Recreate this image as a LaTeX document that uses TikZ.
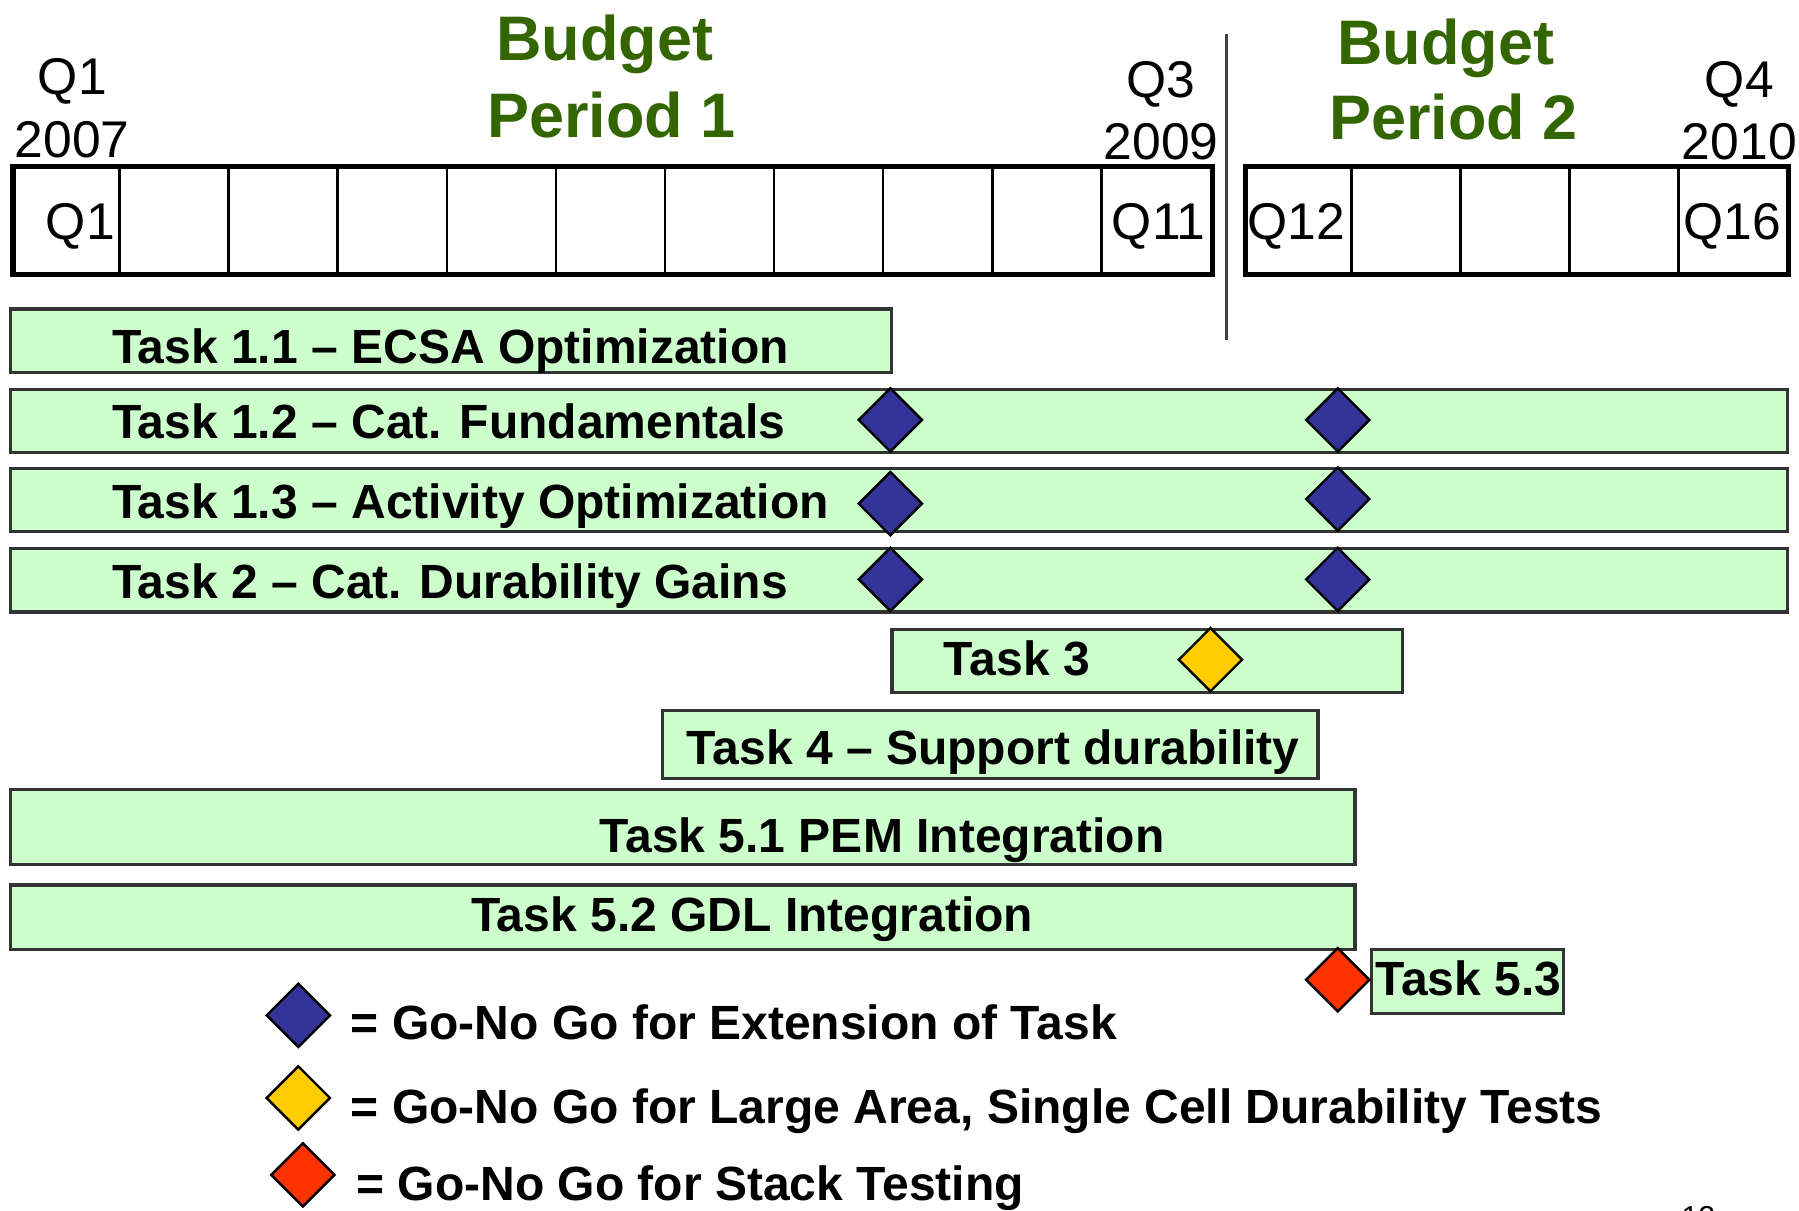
\documentclass[tikz,border=0pt]{standalone}
\usepackage{fontspec}
\setmainfont{Liberation Sans}
\usepackage{xcolor}
\usetikzlibrary{shapes.geometric, positioning}

\definecolor{barfill}{HTML}{CCFFCC}
\definecolor{gonavy}{HTML}{333399}
\definecolor{goyellow}{HTML}{FFCC00}
\definecolor{gored}{HTML}{FF3300}
\definecolor{bpgreen}{HTML}{336600}

\begin{document}
\begin{tikzpicture}[x=0.01cm, y=-0.01cm,
    bar/.style={draw=black!80, line width=0.8pt, fill=barfill, inner sep=0, anchor=north west},
    tlbox/.style={draw, line width=1.3pt, inner sep=0, anchor=north west, minimum height=0.94cm},
    cell/.style={line width=0.6pt},
    tsk/.style={font=\fontsize{11.9}{14}\selectfont\bfseries, inner sep=0, anchor=base west},
    qlbl/.style={font=\fontsize{12.8}{15}\selectfont, inner sep=0, anchor=base},
    bp/.style={font=\fontsize{15.6}{18}\selectfont\bfseries, text=bpgreen, inner sep=0, anchor=base},
    gng/.style={diamond, draw, line width=0.6pt, inner sep=0, minimum width=0.56cm, minimum height=0.56cm},
]
\useasboundingbox (0,0) rectangle (1568,1055);

% Budget periods
\node[bp] (bp1a) at (527,53) {Budget};
\node[bp] (bp1b) at (533,120) {Period 1};
\node[bp] (bp2a) at (1260,56) {Budget};
\node[bp] (bp2b) at (1267,122) {Period 2};

\node[qlbl] (q1top) at (63,82) {Q1};
\node[qlbl] (y2007) at (63,137) {2007};
\node[qlbl] (q3top) at (1012,85) {Q3};
\node[qlbl] (y2009) at (1012,139) {2009};
\node[qlbl] (q4top) at (1516,85) {Q4};
\node[qlbl] (y2010) at (1516,139) {2010};

% Quarter boxes
\foreach \i in {1,...,10}
  \draw[cell] (9+95.1*\i,143) -- (9+95.1*\i,237);
\foreach \i in {1,...,4}
  \draw[cell] (1083+95*\i,143) -- (1083+95*\i,237);
\node[tlbox, minimum width=10.45cm] (tl1) at (9,143) {};
\node[tlbox, minimum width=4.73cm] (tl2) at (1083,143) {};

\node[qlbl] (c1) at (70,209) {Q1};
\node[qlbl] (c11) at (1010,209) {Q11};
\node[qlbl] (c12) at (1130,209) {Q12};
\node[qlbl] (c16) at (1510,209) {Q16};

\draw[line width=0.6pt, black!75] (1069,30) -- (1069,296);

% Task bars
\node[bar, minimum width=7.67cm, minimum height=0.55cm] (b11) at (8,268) {};
\node[bar, minimum width=15.48cm, minimum height=0.55cm] (b12) at (8,338) {};
\node[bar, minimum width=15.48cm, minimum height=0.55cm] (b13) at (8,407) {};
\node[bar, minimum width=15.48cm, minimum height=0.55cm] (b2) at (8,477) {};
\node[bar, minimum width=4.45cm, minimum height=0.55cm] (b3) at (776,547) {};
\node[bar, minimum width=5.71cm, minimum height=0.59cm] (b4) at (576,618) {};
\node[bar, minimum width=11.71cm, minimum height=0.65cm] (b51) at (8,687) {};
\node[bar, minimum width=11.71cm, minimum height=0.56cm] (b52) at (8,770) {};
\node[bar, minimum width=1.67cm, minimum height=0.56cm] (b53) at (1194,826) {};

% Go-No Go points
\node[gng, fill=gonavy] (m12a) at (776,366) {};
\node[gng, fill=gonavy] (m12b) at (1166,366) {};
\node[gng, fill=gonavy] (m13a) at (776,439) {};
\node[gng, fill=gonavy] (m13b) at (1166,435) {};
\node[gng, fill=gonavy] (m2a) at (776,505) {};
\node[gng, fill=gonavy] (m2b) at (1166,505) {};
\node[gng, fill=goyellow] (m3) at (1055,575) {};
\node[gng, fill=gored] (m53) at (1166,854) {};

\node[tsk] (t11) at (97,317) {Task 1.1 – ECSA Optimization};
\node[tsk] (t12) at (97,382) {Task 1.2 – Cat. Fundamentals};
\node[tsk] (t13) at (97,452) {Task 1.3 – Activity Optimization};
\node[tsk] (t2) at (97,522) {Task 2 – Cat. Durability Gains};
\node[tsk] (t3) at (822,589) {Task 3};
\node[tsk] (t4) at (598,666) {Task 4 – Support durability};
\node[tsk] (t51) at (522,743) {Task 5.1 PEM Integration};
\node[tsk] (t52) at (410,812) {Task 5.2 GDL Integration};
\node[tsk] (t53) at (1198,868) {Task 5.3};

% Legend
\node[gng, fill=gonavy] (lg1) at (260,885) {};
\node[gng, fill=goyellow] (lg2) at (260,957) {};
\node[gng, fill=gored] (lg3) at (264,1024) {};
\node[tsk] (lt1) at (305,906) {= Go-No Go for Extension of Task};
\node[tsk] (lt2) at (305,979) {= Go-No Go for Large Area, Single Cell Durability Tests};
\node[tsk] (lt3) at (310,1046) {= Go-No Go for Stack Testing};

\node[font=\fontsize{7.5}{9}\selectfont, inner sep=0, anchor=north west] (pgno) at (1465,1051) {12};

\end{tikzpicture}
\end{document}
